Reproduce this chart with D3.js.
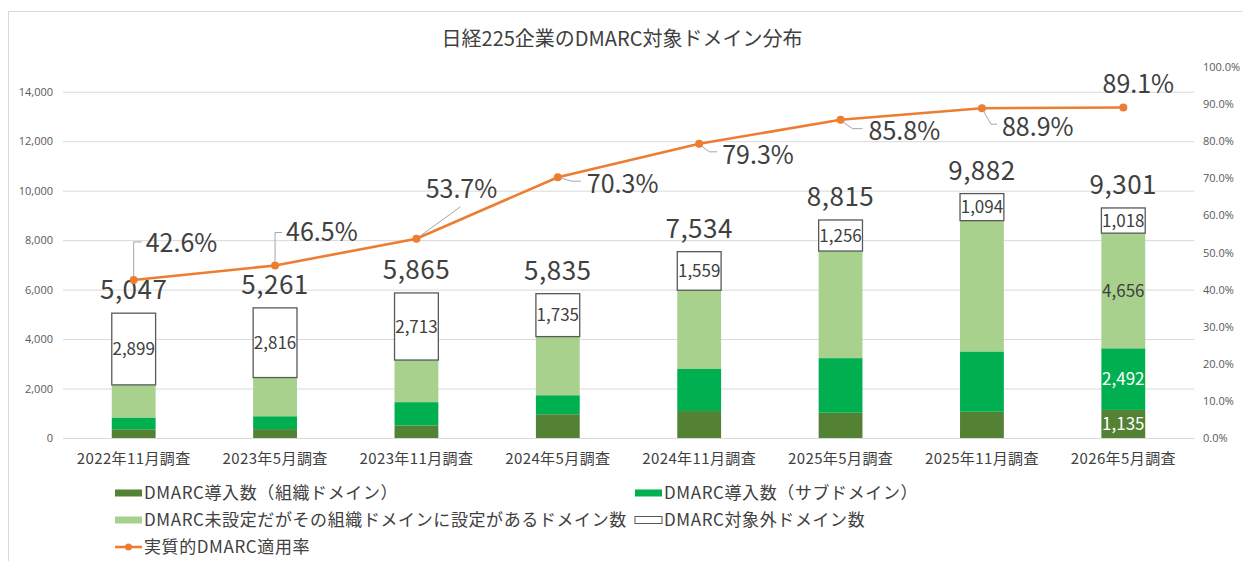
<!DOCTYPE html>
<html lang="ja">
<head>
<meta charset="UTF-8">
<title>日経225企業のDMARC対象ドメイン分布</title>
<script src="https://cdn.jsdelivr.net/npm/d3@7"></script>
<style>
  body { margin: 0; background: #fff; }
  svg text { font-family: "Noto Sans CJK JP", "Noto Sans", sans-serif; }
</style>
</head>
<body>
<svg id="chart" width="1242" height="561"></svg>
<script>
// data
var categories = ["2022年11月調査", "2023年5月調査", "2023年11月調査", "2024年5月調査",
                  "2024年11月調査", "2025年5月調査", "2025年11月調査", "2026年5月調査"];
var orgDomain   = [350, 360, 510, 960, 1090, 1020, 1060, 1135];   // DMARC導入数（組織ドメイン）
var subDomain   = [480, 520, 940, 770, 1700, 2210, 2440, 2492];   // DMARC導入数（サブドメイン）
var inherited   = [1318, 1565, 1702, 2370, 3185, 4329, 5288, 4656]; // 未設定だが組織ドメインに設定あり
var outOfScope  = [2899, 2816, 2713, 1735, 1559, 1256, 1094, 1018]; // DMARC対象外ドメイン数
var totals      = [5047, 5261, 5865, 5835, 7534, 8815, 9882, 9301];
var rate        = [0.426, 0.465, 0.537, 0.703, 0.793, 0.858, 0.889, 0.891]; // 実質的DMARC適用率
var leftTicks   = [0, 2000, 4000, 6000, 8000, 10000, 12000, 14000];
var rightTicks  = [0, 0.1, 0.2, 0.3, 0.4, 0.5, 0.6, 0.7, 0.8, 0.9, 1.0];

var seriesKeys = ["org", "sub", "inh", "out"];
var seriesNames = ["DMARC導入数（組織ドメイン）", "DMARC導入数（サブドメイン）",
                   "DMARC未設定だがその組織ドメインに設定があるドメイン数", "DMARC対象外ドメイン数"];
var rateName = "実質的DMARC適用率";

var colors = { org: "#548235", sub: "#00B050", inh: "#A9D18E", out: "#FFFFFF" };
var orange = "#ED7D31";
var textCol = "#404040";
var axisCol = "#595959";
var gridCol = "#D9D9D9";

var rows = categories.map(function(c, i) {
    return { cat: c, org: orgDomain[i], sub: subDomain[i], inh: inherited[i], out: outOfScope[i] };
});

var svg = d3.select("#chart");

// chart frame
svg.append("rect").attr("x", 8.5).attr("y", 11.5).attr("width", 1250).attr("height", 600)
    .attr("fill", "none").attr("stroke", gridCol);

svg.append("text").attr("x", 622).attr("y", 46).attr("text-anchor", "middle")
    .attr("font-size", 20).attr("fill", textCol).text("日経225企業のDMARC対象ドメイン分布");

var plotL = 63, plotR = 1194, plotT = 67, plotB = 438;

var x = d3.scaleBand().domain(categories).range([plotL, plotR])
    .paddingInner(0.69).paddingOuter(0.345);
var y = d3.scaleLinear().domain([0, 15000]).range([plotB, plotT]);
var y2 = d3.scaleLinear().domain([0, 1]).range([plotB, plotT]);

// gridlines + left axis
var leftAxis = d3.axisLeft(y).tickValues(leftTicks).tickFormat(d3.format(","))
    .tickSize(-(plotR - plotL)).tickPadding(10);
var gL = svg.append("g").attr("transform", "translate(" + plotL + ",0)").call(leftAxis);
gL.select(".domain").remove();
gL.selectAll(".tick line").attr("stroke", gridCol);
gL.selectAll(".tick text").attr("fill", axisCol).attr("font-size", 11)
    .style("font-family", "'Open Sans', 'Noto Sans', sans-serif");

// right axis
var rightAxis = d3.axisRight(y2).tickValues(rightTicks).tickFormat(d3.format(".1%"))
    .tickSize(0).tickPadding(9);
var gR = svg.append("g").attr("transform", "translate(" + plotR + ",0)").call(rightAxis);
gR.select(".domain").remove();
gR.selectAll(".tick text").attr("fill", axisCol).attr("font-size", 11)
    .style("font-family", "'Open Sans', 'Noto Sans', sans-serif");

// x axis
var xAxis = d3.axisBottom(x).tickSize(0).tickPadding(15);
var gX = svg.append("g").attr("transform", "translate(0," + plotB + ")").call(xAxis);
gX.select(".domain").attr("stroke", gridCol);
gX.selectAll(".tick text").attr("fill", textCol).attr("font-size", 15)
    .style("letter-spacing", "0.4px");

// stacked bars
var stacked = d3.stack().keys(seriesKeys)(rows);
svg.append("g").selectAll("g").data(stacked).join("g")
    .attr("fill", function(d) { return colors[d.key]; })
    .attr("stroke", function(d) { return d.key === "out" ? "#595959" : "none"; })
    .attr("stroke-width", 1.3)
    .selectAll("rect").data(function(d) { return d; }).join("rect")
    .attr("x", function(d) { return x(d.data.cat); })
    .attr("y", function(d) { return y(d[1]); })
    .attr("width", x.bandwidth())
    .attr("height", function(d) { return y(d[0]) - y(d[1]); });

// labels inside the white (out of scope) boxes
var outLayer = stacked[3];
svg.append("g").selectAll("text").data(outLayer).join("text")
    .attr("x", function(d) { return x(d.data.cat) + x.bandwidth() / 2; })
    .attr("y", function(d) { return (y(d[0]) + y(d[1])) / 2; })
    .attr("dy", "0.36em").attr("text-anchor", "middle")
    .attr("font-size", 17).attr("fill", textCol)
    .text(function(d) { return d3.format(",")(d.data.out); });

// labels for the last bar's other segments
var lastI = categories.length - 1;
[["inh", textCol], ["sub", "#FFFFFF"], ["org", "#FFFFFF"]].forEach(function(s) {
    var layer = stacked[seriesKeys.indexOf(s[0])][lastI];
    svg.append("text")
        .attr("x", x(categories[lastI]) + x.bandwidth() / 2)
        .attr("y", (y(layer[0]) + y(layer[1])) / 2)
        .attr("dy", "0.36em").attr("text-anchor", "middle")
        .attr("font-size", 17).attr("fill", s[1])
        .text(d3.format(",")(layer.data[s[0]]));
});

// totals above bars
svg.append("g").selectAll("text").data(totals).join("text")
    .attr("x", function(d, i) { return x(categories[i]) + x.bandwidth() / 2; })
    .attr("y", function(d) { return y(d) - 14; })
    .attr("text-anchor", "middle").attr("font-size", 26).attr("fill", textCol)
    .style("letter-spacing", "0.5px")
    .text(function(d) { return d3.format(",")(d); });

// rate line
var cx = function(i) { return x(categories[i]) + x.bandwidth() / 2; };
var line = d3.line().x(function(d, i) { return cx(i); }).y(function(d) { return y2(d); });
svg.append("path").datum(rate).attr("d", line)
    .attr("fill", "none").attr("stroke", orange).attr("stroke-width", 2.6);
svg.append("g").selectAll("circle").data(rate).join("circle")
    .attr("cx", function(d, i) { return cx(i); }).attr("cy", function(d) { return y2(d); })
    .attr("r", 4).attr("fill", orange);

// rate label placement (offsets from each point) and leader lines
var rateLabelPos = [
    { dx: 12, dy: -37, anchor: "start", leader: [[0, -4], [0, -38], [8, -38]] },
    { dx: 11, dy: -33, anchor: "start", leader: [[0, -4], [0, -33], [7, -33]] },
    { dx: 45, dy: -50, anchor: "middle", leader: [[4, -3], [44, -32]] },
    { dx: 29, dy: 7, anchor: "start", leader: [[3, 1], [14, 4], [23, 4]] },
    { dx: 23, dy: 11, anchor: "start", leader: [[2, 2], [10, 8], [18, 8]] },
    { dx: 28, dy: 11, anchor: "start", leader: [[2, 2], [12, 9], [22, 9]] },
    { dx: 20, dy: 19, anchor: "start", leader: [[1, 2], [9, 16], [15, 16]] },
    { dx: 15, dy: -23, anchor: "middle", leader: null }
];
var gRate = svg.append("g");
rate.forEach(function(r, i) {
    var px = cx(i), py = y2(r), p = rateLabelPos[i];
    if (p.leader) {
        gRate.append("path")
            .attr("d", d3.line()(p.leader.map(function(q) { return [px + q[0], py + q[1]]; })))
            .attr("fill", "none").attr("stroke", "#A6A6A6").attr("stroke-width", 1);
    }
    gRate.append("text").attr("x", px + p.dx).attr("y", py + p.dy)
        .attr("dy", "0.36em").attr("text-anchor", p.anchor)
        .attr("font-size", 25).attr("fill", textCol)
        .text(d3.format(".1%")(r));
});

// legend
var legendItems = [
    { name: seriesNames[0], key: "org", x: 115, y: 493 },
    { name: seriesNames[1], key: "sub", x: 635, y: 493 },
    { name: seriesNames[2], key: "inh", x: 115, y: 520 },
    { name: seriesNames[3], key: "out", x: 635, y: 520 },
    { name: rateName, key: "rate", x: 115, y: 547 }
];
var gLeg = svg.append("g");
legendItems.forEach(function(it) {
    if (it.key === "rate") {
        gLeg.append("line").attr("x1", it.x).attr("x2", it.x + 27).attr("y1", it.y).attr("y2", it.y)
            .attr("stroke", orange).attr("stroke-width", 2.6);
        gLeg.append("circle").attr("cx", it.x + 13.5).attr("cy", it.y).attr("r", 3.5).attr("fill", orange);
    } else {
        gLeg.append("rect").attr("x", it.x).attr("y", it.y - 3.5).attr("width", 27).attr("height", 7)
            .attr("fill", colors[it.key])
            .attr("stroke", it.key === "out" ? "#595959" : "none").attr("stroke-width", 1);
    }
    gLeg.append("text").attr("x", it.x + 29).attr("y", it.y).attr("dy", "0.36em")
        .attr("font-size", 17).attr("fill", textCol).style("letter-spacing", "0.6px")
        .text(it.name);
});
</script>
</body>
</html>
